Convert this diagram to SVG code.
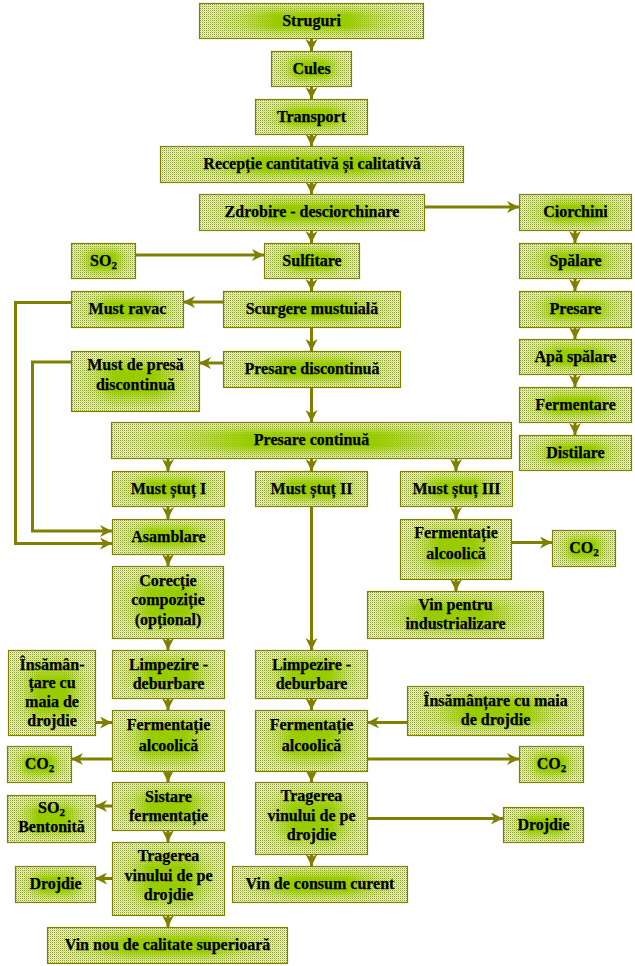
<svg xmlns="http://www.w3.org/2000/svg" width="635" height="966" viewBox="0 0 635 966">
<defs>
<style>
.bx{fill:url(#dith);stroke:#808000;stroke-width:1.2}
.gl{fill:url(#hg);mask:url(#vm)}
.t{font-family:Liberation Serif,serif;font-weight:bold;font-size:16px;text-anchor:middle;fill:#000;stroke:#000;stroke-width:0.25}
.sub{font-size:11px}
.c{stroke:#808000;stroke-width:3;fill:none;marker-end:url(#ah)}
</style>
<pattern id="dith" width="2" height="2" patternUnits="userSpaceOnUse">
<rect width="2" height="2" fill="#eef6d2"/>
<rect width="1" height="1" fill="#8f9c22"/>
<rect x="1" y="1" width="1" height="1" fill="#d2e48a"/>
</pattern>
<linearGradient id="hg" x1="0" y1="0" x2="1" y2="0">
<stop offset="0" stop-color="#99cc00" stop-opacity="0"/>
<stop offset="0.18" stop-color="#99cc00" stop-opacity="0.35"/>
<stop offset="0.34" stop-color="#99cc00" stop-opacity="1"/>
<stop offset="0.66" stop-color="#99cc00" stop-opacity="1"/>
<stop offset="0.82" stop-color="#99cc00" stop-opacity="0.35"/>
<stop offset="1" stop-color="#99cc00" stop-opacity="0"/>
</linearGradient>
<linearGradient id="vg" x1="0" y1="0" x2="0" y2="1">
<stop offset="0" stop-color="#000"/>
<stop offset="0.2" stop-color="#888"/>
<stop offset="0.34" stop-color="#fff"/>
<stop offset="0.66" stop-color="#fff"/>
<stop offset="0.8" stop-color="#888"/>
<stop offset="1" stop-color="#000"/>
</linearGradient>
<mask id="vm" maskContentUnits="objectBoundingBox">
<rect width="1" height="1" fill="url(#vg)"/>
</mask>
<marker id="ah" viewBox="0 0 12 12" refX="12" refY="6" markerWidth="12" markerHeight="12" markerUnits="userSpaceOnUse" orient="auto">
<path d="M0,0 L12,6 L0,12 L3.5,6 z" fill="#808000"/>
</marker>
</defs>

<g id="connectors">
<path class="c" d="M311.5,38 V51"/>
<path class="c" d="M311.5,86 V99"/>
<path class="c" d="M311.5,134 V146"/>
<path class="c" d="M311.5,182 V194"/>
<path class="c" d="M311.5,230 V243"/>
<path class="c" d="M311.5,278 V291"/>
<path class="c" d="M311.5,327 V351"/>
<path class="c" d="M311.5,387 V422"/>
<path class="c" d="M168,458 V471"/>
<path class="c" d="M311.5,458 V471"/>
<path class="c" d="M456,458 V471"/>
<path class="c" d="M168,506 V519"/>
<path class="c" d="M168,554 V566"/>
<path class="c" d="M168,638 V650"/>
<path class="c" d="M168,698 V710"/>
<path class="c" d="M168,771 V782"/>
<path class="c" d="M168,830 V842"/>
<path class="c" d="M168,915 V927"/>
<path class="c" d="M311.5,506 V650"/>
<path class="c" d="M311.5,698 V710"/>
<path class="c" d="M311.5,771 V782"/>
<path class="c" d="M311.5,854 V866"/>
<path class="c" d="M456,506 V519"/>
<path class="c" d="M456,579 V591"/>
<path class="c" d="M575,230 V243"/>
<path class="c" d="M575,278 V291"/>
<path class="c" d="M575,327 V339"/>
<path class="c" d="M575,374 V387"/>
<path class="c" d="M575,422 V435"/>
<path class="c" d="M424,207 H519"/>
<path class="c" d="M135,255 H264"/>
<path class="c" d="M223,302 H183"/>
<path class="c" d="M223,363 H199"/>
<path class="c" d="M71,302.5 H15.5 V543.5 H112"/>
<path class="c" d="M71,362 H32.5 V531 H112"/>
<path class="c" d="M511,542.5 H552"/>
<path class="c" d="M95,722.5 H112"/>
<path class="c" d="M112,759 H71"/>
<path class="c" d="M407,722.5 H367"/>
<path class="c" d="M367,759 H519"/>
<path class="c" d="M112,806 H95"/>
<path class="c" d="M367,818.5 H503"/>
<path class="c" d="M112,878.5 H95"/>
</g>

<g id="nodes" font-family="Liberation Serif, serif">
<g id="n-struguri"><rect class="bx" x="199.5" y="3.5" width="224" height="35"/><rect class="gl" x="199.5" y="3.5" width="224" height="35"/><text class="t" x="311.5" y="25.5">Struguri</text></g>
<g id="n-cules"><rect class="bx" x="271.5" y="51.5" width="80" height="35"/><rect class="gl" x="271.5" y="51.5" width="80" height="35"/><text class="t" x="311.5" y="73.5">Cules</text></g>
<g id="n-transport"><rect class="bx" x="255.5" y="99.5" width="112" height="35"/><rect class="gl" x="255.5" y="99.5" width="112" height="35"/><text class="t" x="311.5" y="121.5">Transport</text></g>
<g id="n-receptie"><rect class="bx" x="160.5" y="146.5" width="303" height="36"/><rect class="gl" x="160.5" y="146.5" width="303" height="36"/><text class="t" x="312" y="169">Recepție cantitativă și calitativă</text></g>
<g id="n-zdrobire"><rect class="bx" x="199.5" y="194.5" width="225" height="36"/><rect class="gl" x="199.5" y="194.5" width="225" height="36"/><text class="t" x="312" y="217">Zdrobire - desciorchinare</text></g>
<g id="n-ciorchini"><rect class="bx" x="519.5" y="194.5" width="112" height="36"/><rect class="gl" x="519.5" y="194.5" width="112" height="36"/><text class="t" x="575.5" y="217">Ciorchini</text></g>
<g id="n-so2"><rect class="bx" x="71.5" y="243.5" width="64" height="35"/><rect class="gl" x="71.5" y="243.5" width="64" height="35"/><text class="t" x="103.5" y="265.5">SO<tspan class="sub" dy="3">2</tspan></text></g>
<g id="n-sulfitare"><rect class="bx" x="264.5" y="243.5" width="95" height="35"/><rect class="gl" x="264.5" y="243.5" width="95" height="35"/><text class="t" x="312" y="265.5">Sulfitare</text></g>
<g id="n-spalare"><rect class="bx" x="519.5" y="243.5" width="112" height="35"/><rect class="gl" x="519.5" y="243.5" width="112" height="35"/><text class="t" x="575.5" y="265.5">Spălare</text></g>
<g id="n-mustravac"><rect class="bx" x="71.5" y="291.5" width="112" height="36"/><rect class="gl" x="71.5" y="291.5" width="112" height="36"/><text class="t" x="127.5" y="314">Must ravac</text></g>
<g id="n-scurgere"><rect class="bx" x="223.5" y="291.5" width="177" height="36"/><rect class="gl" x="223.5" y="291.5" width="177" height="36"/><text class="t" x="312" y="314">Scurgere mustuială</text></g>
<g id="n-presare"><rect class="bx" x="519.5" y="291.5" width="112" height="36"/><rect class="gl" x="519.5" y="291.5" width="112" height="36"/><text class="t" x="575.5" y="314">Presare</text></g>
<g id="n-mustpresa"><rect class="bx" x="71.5" y="351.5" width="128" height="60"/><rect class="gl" x="71.5" y="351.5" width="128" height="60"/><text class="t" x="135.5" y="369.5">Must de presă<tspan x="135.5" dy="20">discontinuă</tspan></text></g>
<g id="n-presaredisc"><rect class="bx" x="223.5" y="351.5" width="177" height="36"/><rect class="gl" x="223.5" y="351.5" width="177" height="36"/><text class="t" x="312" y="374">Presare discontinuă</text></g>
<g id="n-apa"><rect class="bx" x="519.5" y="339.5" width="112" height="35"/><rect class="gl" x="519.5" y="339.5" width="112" height="35"/><text class="t" x="575.5" y="361.5">Apă spălare</text></g>
<g id="n-fermentare"><rect class="bx" x="519.5" y="387.5" width="112" height="35"/><rect class="gl" x="519.5" y="387.5" width="112" height="35"/><text class="t" x="575.5" y="409.5">Fermentare</text></g>
<g id="n-presarecont"><rect class="bx" x="111.5" y="422.5" width="400" height="36"/><rect class="gl" x="111.5" y="422.5" width="400" height="36"/><text class="t" x="311.5" y="445">Presare continuă</text></g>
<g id="n-distilare"><rect class="bx" x="519.5" y="435.5" width="112" height="35"/><rect class="gl" x="519.5" y="435.5" width="112" height="35"/><text class="t" x="575.5" y="457.5">Distilare</text></g>
<g id="n-must1"><rect class="bx" x="112.5" y="471.5" width="112" height="35"/><rect class="gl" x="112.5" y="471.5" width="112" height="35"/><text class="t" x="168.5" y="493.5">Must ștuț I</text></g>
<g id="n-must2"><rect class="bx" x="255.5" y="471.5" width="112" height="35"/><rect class="gl" x="255.5" y="471.5" width="112" height="35"/><text class="t" x="311.5" y="493.5">Must ștuț II</text></g>
<g id="n-must3"><rect class="bx" x="400.5" y="471.5" width="112" height="35"/><rect class="gl" x="400.5" y="471.5" width="112" height="35"/><text class="t" x="456.5" y="493.5">Must ștuț III</text></g>
<g id="n-asamblare"><rect class="bx" x="112.5" y="519.5" width="112" height="35"/><rect class="gl" x="112.5" y="519.5" width="112" height="35"/><text class="t" x="168.5" y="541.5">Asamblare</text></g>
<g id="n-fermR"><rect class="bx" x="400.5" y="519.5" width="111" height="60"/><rect class="gl" x="400.5" y="519.5" width="111" height="60"/><text class="t" x="456" y="538">Fermentație<tspan x="456" dy="20.5">alcoolică</tspan></text></g>
<g id="n-co2a"><rect class="bx" x="552.5" y="530.5" width="63" height="36"/><rect class="gl" x="552.5" y="530.5" width="63" height="36"/><text class="t" x="584" y="553">CO<tspan class="sub" dy="3">2</tspan></text></g>
<g id="n-corectie"><rect class="bx" x="112.5" y="566.5" width="111" height="72"/><rect class="gl" x="112.5" y="566.5" width="111" height="72"/><text class="t" x="168" y="585.5">Corecție<tspan x="168" dy="19.7">compoziție</tspan><tspan x="168" dy="19.7">(opțional)</tspan></text></g>
<g id="n-vinind"><rect class="bx" x="367.5" y="591.5" width="176" height="47"/><rect class="gl" x="367.5" y="591.5" width="176" height="47"/><text class="t" x="455.5" y="610">Vin pentru<tspan x="455.5" dy="19">industrializare</tspan></text></g>
<g id="n-insL"><rect class="bx" x="8.5" y="650.5" width="87" height="85"/><rect class="gl" x="8.5" y="650.5" width="87" height="85"/><text class="t" x="52" y="669.5">Însămân-<tspan x="52" dy="18.7">țare cu</tspan><tspan x="52" dy="18.7">maia de</tspan><tspan x="52" dy="18.7">drojdie</tspan></text></g>
<g id="n-limpL"><rect class="bx" x="112.5" y="650.5" width="112" height="48"/><rect class="gl" x="112.5" y="650.5" width="112" height="48"/><text class="t" x="168.5" y="669.5">Limpezire -<tspan x="168.5" dy="19.5">deburbare</tspan></text></g>
<g id="n-limpM"><rect class="bx" x="255.5" y="650.5" width="112" height="48"/><rect class="gl" x="255.5" y="650.5" width="112" height="48"/><text class="t" x="311.5" y="669.5">Limpezire -<tspan x="311.5" dy="19.5">deburbare</tspan></text></g>
<g id="n-insR"><rect class="bx" x="407.5" y="686.5" width="176" height="49"/><rect class="gl" x="407.5" y="686.5" width="176" height="49"/><text class="t" x="495.5" y="705.5">Însămânțare cu maia<tspan x="495.5" dy="19">de drojdie</tspan></text></g>
<g id="n-fermL"><rect class="bx" x="112.5" y="710.5" width="112" height="61"/><rect class="gl" x="112.5" y="710.5" width="112" height="61"/><text class="t" x="168.5" y="729.5">Fermentație<tspan x="168.5" dy="21">alcoolică</tspan></text></g>
<g id="n-fermM"><rect class="bx" x="255.5" y="710.5" width="112" height="61"/><rect class="gl" x="255.5" y="710.5" width="112" height="61"/><text class="t" x="311.5" y="729.5">Fermentație<tspan x="311.5" dy="21">alcoolică</tspan></text></g>
<g id="n-co2L"><rect class="bx" x="7.5" y="746.5" width="64" height="36"/><rect class="gl" x="7.5" y="746.5" width="64" height="36"/><text class="t" x="39.5" y="769">CO<tspan class="sub" dy="3">2</tspan></text></g>
<g id="n-co2R"><rect class="bx" x="519.5" y="746.5" width="64" height="36"/><rect class="gl" x="519.5" y="746.5" width="64" height="36"/><text class="t" x="551.5" y="769">CO<tspan class="sub" dy="3">2</tspan></text></g>
<g id="n-sistare"><rect class="bx" x="112.5" y="782.5" width="112" height="48"/><rect class="gl" x="112.5" y="782.5" width="112" height="48"/><text class="t" x="168.5" y="802">Sistare<tspan x="168.5" dy="18.5">fermentație</tspan></text></g>
<g id="n-tragM"><rect class="bx" x="255.5" y="782.5" width="112" height="72"/><rect class="gl" x="255.5" y="782.5" width="112" height="72"/><text class="t" x="311.5" y="801">Tragerea<tspan x="311.5" dy="19.7">vinului de pe</tspan><tspan x="311.5" dy="19.7">drojdie</tspan></text></g>
<g id="n-so2bent"><rect class="bx" x="7.5" y="795.5" width="88" height="47"/><rect class="gl" x="7.5" y="795.5" width="88" height="47"/><text class="t" x="51.5" y="812.5">SO<tspan class="sub" dy="3">2</tspan><tspan x="51.5" dy="16.5">Bentonită</tspan></text></g>
<g id="n-drojR"><rect class="bx" x="503.5" y="807.5" width="80" height="35"/><rect class="gl" x="503.5" y="807.5" width="80" height="35"/><text class="t" x="543.5" y="829.5">Drojdie</text></g>
<g id="n-tragL"><rect class="bx" x="112.5" y="842.5" width="112" height="73"/><rect class="gl" x="112.5" y="842.5" width="112" height="73"/><text class="t" x="168.5" y="861">Tragerea<tspan x="168.5" dy="19.7">vinului de pe</tspan><tspan x="168.5" dy="19.7">drojdie</tspan></text></g>
<g id="n-drojL"><rect class="bx" x="15.5" y="866.5" width="80" height="36"/><rect class="gl" x="15.5" y="866.5" width="80" height="36"/><text class="t" x="55.5" y="889">Drojdie</text></g>
<g id="n-vinconsum"><rect class="bx" x="232.5" y="866.5" width="175" height="36"/><rect class="gl" x="232.5" y="866.5" width="175" height="36"/><text class="t" x="320" y="889">Vin de consum curent</text></g>
<g id="n-vinnou"><rect class="bx" x="47.5" y="927.5" width="240" height="36"/><rect class="gl" x="47.5" y="927.5" width="240" height="36"/><text class="t" x="167.5" y="950">Vin nou de calitate superioară</text></g>
</g>
</svg>
